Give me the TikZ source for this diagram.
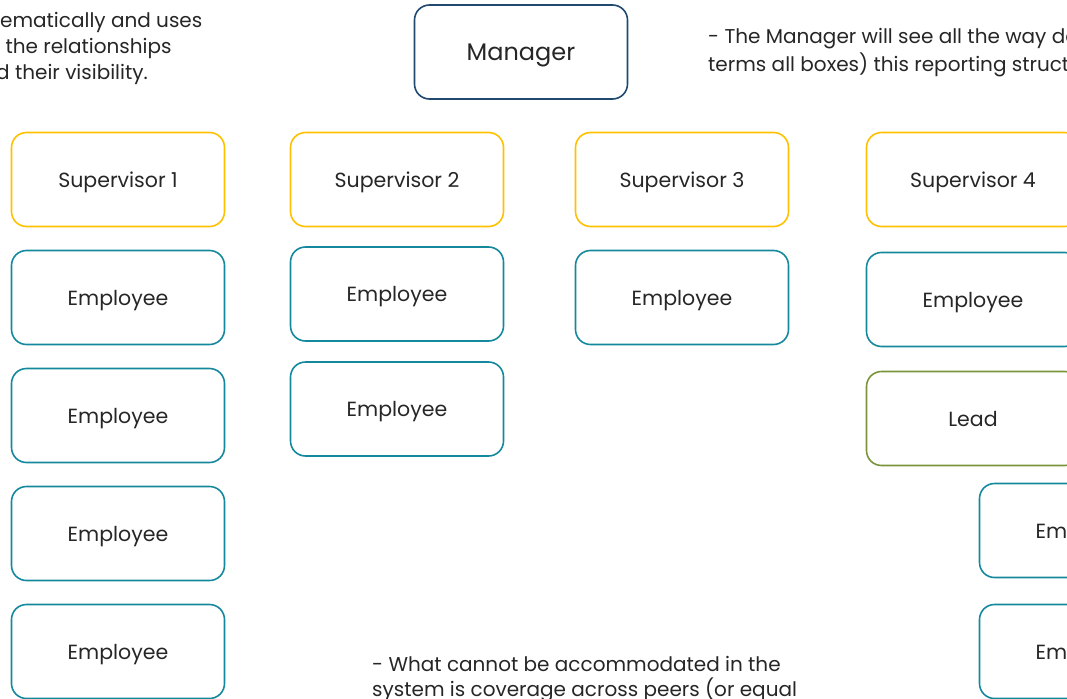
\documentclass[tikz,border=0pt]{standalone}
\usepackage{fontspec}
\setmainfont{Poppins}
\usetikzlibrary{positioning}

\definecolor{mgrblue}{RGB}{31,73,110}
\definecolor{supgold}{RGB}{255,192,0}
\definecolor{empteal}{RGB}{20,136,156}
\definecolor{leadgreen}{RGB}{122,148,58}

\begin{document}
\begin{tikzpicture}[
    x=1pt, y=-1pt,
    box/.style={draw, line width=1.6pt, rounded corners=15pt, minimum width=213pt,
        minimum height=94pt, inner sep=0pt, text depth=0pt,
        font=\fontsize{20.5}{24}\selectfont, text=black!85}, % common box
    mgr/.style={box, draw=mgrblue, font=\fontsize{24}{28}\selectfont}, % top box
    sup/.style={box, draw=supgold}, % supervisors
    emp/.style={box, draw=empteal}, % employees
    lead/.style={box, draw=leadgreen}, % lead
    note/.style={anchor=west, inner sep=0pt, font=\fontsize{20}{24}\selectfont, text=black!85} % note lines
]

\useasboundingbox (0,0) rectangle (1067,698);
\clip (0,0) rectangle (1067,698);

% Manager
\node[mgr] (manager) at (521,52) {Manager};

% Supervisors
\node[sup] (sup1) at (118,179.5) {Supervisor 1};
\node[sup] (sup2) at (397,179.5) {Supervisor 2};
\node[sup] (sup3) at (682,179.5) {Supervisor 3};
\node[sup] (sup4) at (973,179.5) {Supervisor 4};

% Column 1
\node[emp] (emp1a) at (118,297.5) {Employee};
\node[emp] (emp1b) at (118,415.5) {Employee};
\node[emp] (emp1c) at (118,533.5) {Employee};
\node[emp] (emp1d) at (118,651.5) {Employee};

% Column 2
\node[emp] (emp2a) at (397,294) {Employee};
\node[emp] (emp2b) at (397,409) {Employee};

% Column 3
\node[emp] (emp3a) at (682,297.5) {Employee};

% Column 4
\node[emp] (emp4a) at (973,299.5) {Employee};
\node[lead] (lead4) at (973,418.5) {Lead};
\node[emp] (emp4b) at (1086,530.5) {Employee};
\node[emp] (emp4c) at (1086,651.5) {Employee};

% Notes
\node[note] (noteA1) at (0,22) {ematically and uses};
\node[note] (noteA2) at (0,48) {\ the relationships};
\node[note] (noteA3) at (-4,74) {d their visibility.};

\node[note] (noteB1) at (708,39) {- The Manager will see all the way down};
\node[note] (noteB2) at (708,65) {terms all boxes) this reporting structure};

\node[note] (noteC1) at (372,664) {- What cannot be accommodated in the};
\node[note] (noteC2) at (372,690) {system is coverage across peers (or equal};

\end{tikzpicture}
\end{document}
